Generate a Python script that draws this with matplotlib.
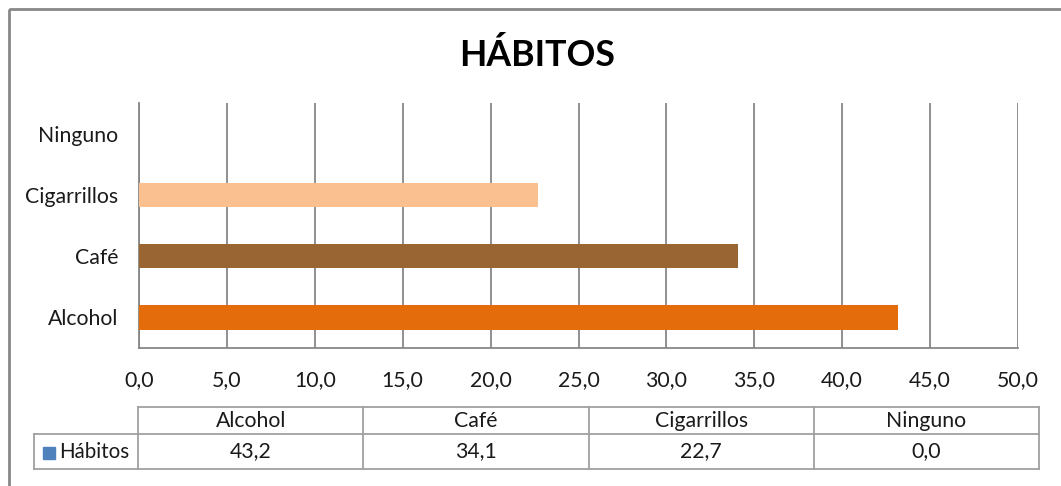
import matplotlib
matplotlib.use("Agg")
import matplotlib.pyplot as plt
from matplotlib.patches import Rectangle

categories = ["Alcohol", "Café", "Cigarrillos", "Ninguno"]
values = [43.2, 34.1, 22.7, 0.0]
colors = ["#E46C0A", "#996633", "#FAC090", "#4F81BD"]
series_name = "Hábitos"
title = "HÁBITOS"
xticks = [0, 5, 10, 15, 20, 25, 30, 35, 40, 45, 50]

plt.rcParams['font.family'] = ['Lato', 'DejaVu Sans']
W, H = 1061, 486
fs = 15.3
fig = plt.figure(figsize=(W / 100, H / 100), dpi=100)
fig.patch.set_facecolor("white")

# overlay in pixel coords
ov = fig.add_axes([0, 0, 1, 1])
ov.set_xlim(0, W)
ov.set_ylim(H, 0)
ov.axis("off")
ov.add_patch(Rectangle((9, 9), W + 10, H + 10, fill=False, edgecolor="#888888", lw=2))

ax = fig.add_axes([139 / W, 1 - 348 / H, (1018 - 139) / W, (348 - 103) / H])
ypos = list(range(len(categories)))
ax.barh(ypos, values, height=0.4, color=colors[:len(categories)], zorder=3)
ax.set_xlim(0, 50)
ax.set_ylim(-0.5, len(categories) - 0.5)
ax.set_xticks(xticks)
ax.set_xticklabels([f"{v:.1f}".replace(".", ",") for v in xticks])
ax.set_yticks(ypos)
ax.set_yticklabels(categories)
ax.tick_params(axis="x", length=0, pad=16, labelsize=fs, colors="#1a1a1a")
ax.tick_params(axis="y", length=0, pad=15, labelsize=fs, colors="#1a1a1a")
ax.grid(axis="x", color="#878787", lw=1.3, zorder=0)
for s in ["top", "right"]:
    ax.spines[s].set_visible(False)
ax.spines["left"].set_color("#878787")
ax.spines["left"].set_linewidth(1.3)
ax.spines["bottom"].set_color("#878787")
ax.spines["bottom"].set_linewidth(1.3)
ax.set_facecolor("white")

fig.text(537 / W, 1 - 55 / H, title, ha="center", va="center", fontsize=25.7,
         fontweight="bold", color="#000000")

# data table
col_left = 138
col_w = 225.3
lab_left = 34
row_top, row_mid, row_bot = 407, 434, 469
lc = "#A0A0A0"
n = len(categories)
right = col_left + n * col_w
ov.plot([col_left, right], [row_top, row_top], color=lc, lw=1.3)
ov.plot([lab_left, right], [row_mid, row_mid], color=lc, lw=1.3)
ov.plot([lab_left, right], [row_bot, row_bot], color=lc, lw=1.3)
ov.plot([lab_left, lab_left], [row_mid, row_bot], color=lc, lw=1.3)
for i in range(n + 1):
    x = col_left + i * col_w
    ov.plot([x, x], [row_top, row_bot], color=lc, lw=1.3)
for i, (c, v) in enumerate(zip(categories, values)):
    xc = col_left + (i + 0.5) * col_w
    ov.text(xc, (row_top + row_mid) / 2, c, ha="center", va="center", fontsize=fs, color="#1a1a1a")
    ov.text(xc, (row_mid + row_bot) / 2, f"{v:.1f}".replace(".", ","), ha="center", va="center",
            fontsize=fs, color="#1a1a1a")
ov.add_patch(Rectangle((43, 447), 12, 12, color=colors[3]))
ov.text(59.5, (row_mid + row_bot) / 2, series_name, ha="left", va="center", fontsize=14.8, color="#1a1a1a")

fig.savefig("out.png", dpi=100, facecolor="white")
